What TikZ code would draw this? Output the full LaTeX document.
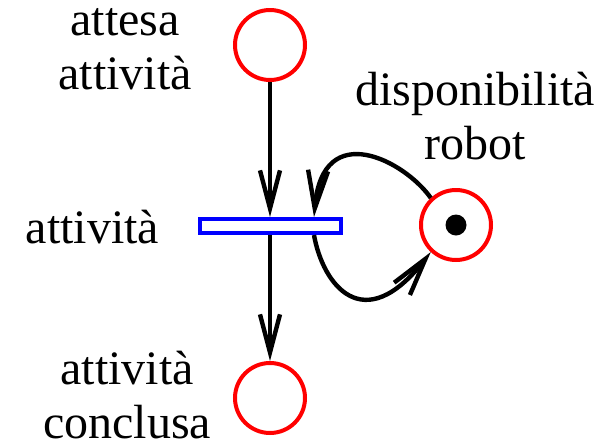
\documentclass[tikz,border=0pt]{standalone}
\usepackage{fontspec}
\setmainfont{Liberation Serif}
\usetikzlibrary{arrows.meta}

\begin{document}
\begin{tikzpicture}[font=\fontsize{24}{27}\selectfont,
  >={Straight Barb[length=19pt, width=10pt]},
  flow/.style={->, line width=2.2pt},
  place/.style={circle, draw=red, line width=2pt, minimum size=35pt, inner sep=0pt},
  trans/.style={rectangle, draw=blue, line width=2pt, minimum width=70.5pt, minimum height=7pt, inner sep=0pt},
  lbl/.style={align=center, inner sep=0pt}]
  \useasboundingbox (0pt,0pt) rectangle (303pt,223.5pt);
  \node[place] (attesa) at (135pt,201pt) {};
  \node[trans] (att) at (135pt,110.5pt) {};
  \node[place] (concl) at (135pt,24.5pt) {};
  \node[place] (robot) at (228pt,111pt) {};
  \node[circle, fill, inner sep=0pt, minimum size=10.5pt] (tok) at (robot) {};
  \node[lbl] (lattesa) at (62.5pt,199pt) {attesa\\attività};
  \node[lbl] (lrobot) at (237.5pt,165.5pt) {disponibilità\\robot};
  \node[lbl] (latt) at (46.25pt,110pt) {attività};
  \node[lbl] (lconcl) at (63.5pt,26pt) {attività\\conclusa};
  \foreach \a/\b in {attesa.south/att.north, att.south/concl.north}
     \draw[flow] (\a) -- (\b);
  \draw[flow] (robot.133) .. controls +(125:22.5pt) and +(85:50pt) .. ([xshift=22pt]att.north);
  \draw[flow] ([xshift=22pt]att.south) .. controls +(280:25pt) and +(232:55pt) .. (robot.227);
\end{tikzpicture}
\end{document}
